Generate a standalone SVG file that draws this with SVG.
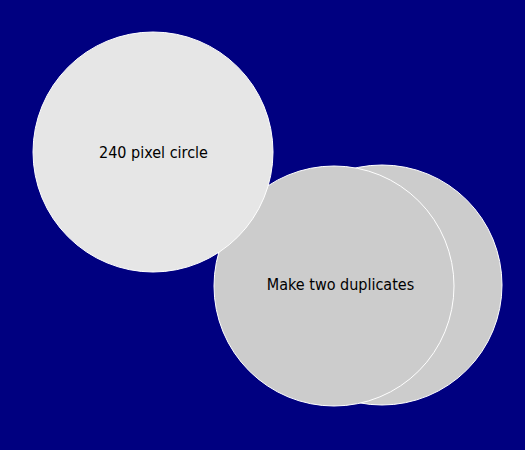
<svg xmlns="http://www.w3.org/2000/svg" width="525" height="450" viewBox="0 0 525 450">
<style>
.c{stroke:#ffffff;stroke-width:1}
.t{font-family:"DejaVu Sans Condensed","DejaVu Sans",sans-serif;font-size:16px;fill:#000000;text-anchor:middle}
</style>
<rect width="525" height="450" fill="#000080"/>
<g id="dup2"><circle class="c" cx="382" cy="285" r="120" fill="#cccccc"/></g>
<g id="dup1"><circle class="c" cx="334" cy="286" r="120" fill="#cccccc"/><text class="t" x="340.5" y="290">Make two duplicates</text></g>
<g id="circle"><circle class="c" cx="153" cy="152" r="120" fill="#e6e6e6"/><text class="t" x="153.5" y="158">240 pixel circle</text></g>
<g id="connectors"/>
</svg>
